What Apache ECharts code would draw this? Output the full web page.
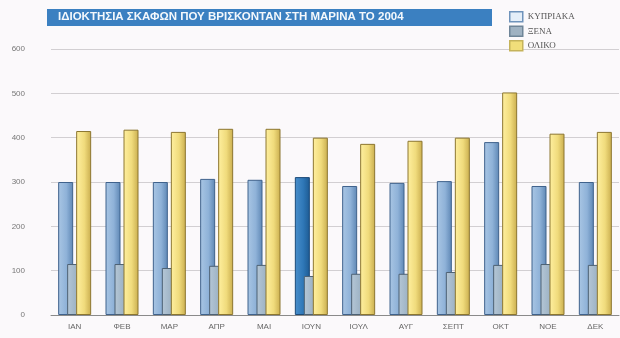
<!DOCTYPE html>
<html>
<head>
<meta charset="utf-8">
<script src="https://cdn.jsdelivr.net/npm/echarts@6/dist/echarts.min.js"></script>
<style>
  html, body { margin: 0; padding: 0; background: #fbf9fb; }
  #chart { width: 620px; height: 338px; }
</style>
</head>
<body>
<div id="chart"></div>
<script>
// Boat ownership at the marina, 2004 (monthly)
const months = ['ΙΑΝ', 'ΦΕΒ', 'ΜΑΡ', 'ΑΠΡ', 'ΜΑΙ', 'ΙΟΥΝ', 'ΙΟΥΛ', 'ΑΥΓ', 'ΣΕΠΤ', 'ΟΚΤ', 'ΝΟΕ', 'ΔΕΚ'];
const cypriot = [300, 300, 300, 307, 305, 311, 291, 298, 302, 390, 291, 300];
const foreign = [115, 115, 106, 111, 113, 88, 93, 93, 97, 113, 115, 113];
const total   = [415, 418, 413, 420, 420, 400, 386, 393, 400, 502, 409, 413];
const yTicks  = [0, 100, 200, 300, 400, 500, 600];
const seriesNames = ['ΚΥΠΡΙΑΚΑ', 'ΞΕΝΑ', 'ΟΛΙΚΟ'];
const titleText = 'ΙΔΙΟΚΤΗΣΙΑ ΣΚΑΦΩΝ ΠΟΥ ΒΡΙΣΚΟΝΤΑΝ ΣΤΗ ΜΑΡΙΝΑ ΤΟ 2004';
const accentMonth = 'ΙΟΥΝ';

function shade(c1, c2, c3) {
  return new echarts.graphic.LinearGradient(0, 0, 1, 0, [
    { offset: 0, color: c1 },
    { offset: 0.55, color: c2 },
    { offset: 1, color: c3 }
  ]);
}

const cypStyle = { color: shade('#a9c6e4', '#8fb2d8', '#5d86b4'), borderColor: '#3f628c', borderWidth: 1 };
const cypAccent = { color: shade('#4a8fcb', '#2f78b8', '#1d5a92'), borderColor: '#1b4a78', borderWidth: 1 };
const forStyle = { color: shade('#b5c7d6', '#a0b5c7', '#8097ab'), borderColor: '#4e6274', borderWidth: 1 };
const totStyle = { color: shade('#fff0a0', '#f0db7c', '#c9ad4e'), borderColor: '#8c7630', borderWidth: 1 };

const cypData = cypriot.map((v, i) => months[i] === accentMonth ? { value: v, itemStyle: cypAccent } : v);

const chart = echarts.init(document.getElementById('chart'), null, { renderer: 'canvas' });
chart.setOption({
  backgroundColor: '#fbf9fb',
  animation: false,
  graphic: [
    { type: 'rect', left: 47, top: 9, shape: { width: 445, height: 17 }, style: { fill: '#3b80c1' } },
    { type: 'text', left: 58, top: 11, style: { text: titleText, fill: '#f4f8fc', font: 'bold 11.5px "Liberation Sans", Arial, sans-serif' } }
  ],
  legend: {
    orient: 'vertical',
    left: 504,
    top: 6,
    itemWidth: 13,
    itemHeight: 10,
    itemGap: 3,
    icon: 'rect',
    textStyle: { fontFamily: '"Liberation Serif", serif', fontSize: 9, color: '#555' },
    data: [
      { name: seriesNames[0], itemStyle: { color: '#e4eef8', borderColor: '#6f93bb', borderWidth: 1.5 } },
      { name: seriesNames[1], itemStyle: { color: '#9fb2c2', borderColor: '#6f8598', borderWidth: 1.5 } },
      { name: seriesNames[2], itemStyle: { color: '#f1de7a', borderColor: '#c5b35a', borderWidth: 1.5 } }
    ]
  },
  grid: { left: 51, right: 1, top: 49, bottom: 23 },
  xAxis: {
    type: 'category',
    data: months,
    axisLine: { show: true, lineStyle: { color: '#8a8a8a', width: 1 } },
    axisTick: { show: false },
    axisLabel: { color: '#666', fontSize: 8, margin: 8, fontFamily: '"Liberation Sans", Arial, sans-serif' }
  },
  yAxis: {
    type: 'value',
    min: 0,
    max: 600,
    interval: 100,
    axisLine: { show: false },
    axisTick: { show: false },
    axisLabel: {
      color: '#777', fontSize: 8, margin: 26, padding: [12, 0, 0, 0],
      fontFamily: '"Liberation Sans", Arial, sans-serif',
      formatter: v => yTicks.includes(v) ? String(v) : ''
    },
    splitLine: { show: true, lineStyle: { color: '#d2cfd2', width: 1 } }
  },
  series: [
    { name: seriesNames[0], type: 'bar', data: cypData, barWidth: 15, barGap: '-40%', itemStyle: cypStyle },
    { name: seriesNames[1], type: 'bar', data: foreign, barWidth: 15, barGap: '-40%', itemStyle: forStyle },
    { name: seriesNames[2], type: 'bar', data: total, barWidth: 15, barGap: '-40%', itemStyle: totStyle }
  ]
});
</script>
</body>
</html>
